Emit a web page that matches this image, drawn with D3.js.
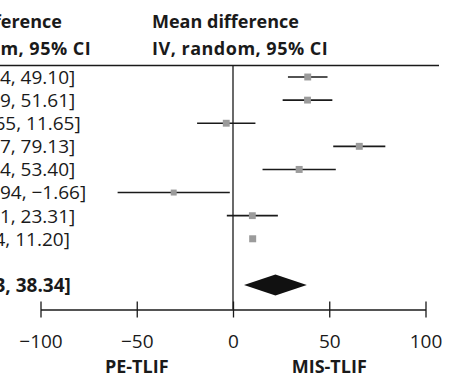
<!DOCTYPE html>
<html>
<head>
<meta charset="utf-8">
<script src="https://cdn.jsdelivr.net/npm/d3@7"></script>
<style>
  body { margin: 0; background: #fff; }
  text { font-family: "Open Sans", sans-serif; fill: #1a1a1a; }
</style>
</head>
<body>
<svg id="chart" width="450" height="377"></svg>
<script>
// study estimates (mean difference, 95% CI)
const means = [38.82, 38.70, -3.50, 65.60, 34.37, -30.80, 10.05, 10.22];
const lowers = [28.54, 25.79, -18.65, 52.07, 15.34, -59.94, -3.21, 9.24];
const uppers = [49.10, 51.61, 11.65, 79.13, 53.40, -1.66, 23.31, 11.20];
const weights = [12.9, 12.7, 12.8, 13.0, 13.2, 9.6, 12.6, 13.2];
// pooled: lower, mean, upper
const pooled = [5.73, 22.04, 38.34];
const tickValues = [-100, -50, 0, 50, 100];
const favours = ['PE-TLIF', 'MIS-TLIF'];
const header = ['Mean difference', 'IV, random, 95% CI'];

const svg = d3.select('#chart');
const fmt = d3.format('.2f');

const x = d3.scaleLinear().domain([-100, 100]).range([40.5, 425.5]);
const y = d3.scalePoint().domain(d3.range(10)).range([77, 285]);
const size = d3.scaleSqrt().domain([0, 14]).range([0, 7.2]);

const axisY = 309.5;
const textX = -11;

// headers (left text column is cut off by the frame)
[-85, 152].forEach(hx => {
  svg.append('text')
    .attr('x', hx)
    .selectAll('tspan')
    .data(header)
    .join('tspan')
    .attr('x', hx)
    .attr('y', (d, i) => 28 + i * 27)
    .attr('font-size', 18)
    .attr('font-weight', 'bold')
    .attr('letter-spacing', (d, i) => i === 1 ? 0.5 : 0)
    .text(d => d);
});

svg.append('line')
  .attr('x1', 0).attr('x2', 439)
  .attr('y1', 65.5).attr('y2', 65.5)
  .attr('stroke', '#1a1a1a')
  .attr('stroke-width', 1.3);

// zero line
svg.append('line')
  .attr('x1', x(0)).attr('x2', x(0))
  .attr('y1', 65.5).attr('y2', axisY)
  .attr('stroke', '#1a1a1a')
  .attr('stroke-width', 1.3);

const rows = means.map((m, i) => ({ m, lo: lowers[i], hi: uppers[i], w: weights[i], i }));

// row texts
svg.append('g')
  .selectAll('text')
  .data(rows)
  .join('text')
  .attr('x', textX)
  .attr('y', d => y(d.i))
  .attr('dy', '0.36em')
  .attr('text-anchor', 'middle')
  .attr('font-size', 19)
  .text(d => `${fmt(d.m)} [${fmt(d.lo)}, ${fmt(d.hi)}]`);

const marks = svg.append('g')
  .selectAll('g')
  .data(rows)
  .join('g');

marks.append('line')
  .attr('x1', d => x(d.lo))
  .attr('x2', d => x(d.hi))
  .attr('y1', d => y(d.i))
  .attr('y2', d => y(d.i))
  .attr('stroke', '#1a1a1a')
  .attr('stroke-width', 1.6);

marks.append('rect')
  .attr('x', d => x(d.m) - size(d.w) / 2)
  .attr('y', d => y(d.i) - size(d.w) / 2)
  .attr('width', d => size(d.w))
  .attr('height', d => size(d.w))
  .attr('fill', '#9b9b9b');

// pooled estimate
const py = y(9);
svg.append('text')
  .attr('x', textX)
  .attr('y', py)
  .attr('dy', '0.36em')
  .attr('text-anchor', 'middle')
  .attr('font-size', 19)
  .attr('font-weight', 'bold')
  .text(`${fmt(pooled[1])} [${fmt(pooled[0])}, ${fmt(pooled[2])}]`);

svg.append('path')
  .attr('d', `M${x(pooled[0])},${py}L${x(pooled[1])},${py - 10.5}L${x(pooled[2])},${py}L${x(pooled[1])},${py + 10.5}Z`)
  .attr('fill', '#111');

// axis
const axis = svg.append('g')
  .attr('transform', `translate(0,${axisY})`)
  .call(d3.axisBottom(x).tickValues(tickValues).tickSizeOuter(0).tickFormat(d3.format('d')));

axis.select('.domain').attr('stroke', '#1a1a1a').attr('stroke-width', 1.3);
axis.selectAll('.tick line')
  .attr('y1', -8).attr('y2', 8)
  .attr('stroke', '#1a1a1a')
  .attr('stroke-width', 1.3);
axis.selectAll('.tick text')
  .attr('y', 38)
  .attr('dy', null)
  .attr('font-size', 19)
  .attr('font-family', null)
  .attr('fill', null);

svg.append('g')
  .selectAll('text')
  .data(favours)
  .join('text')
  .attr('x', (d, i) => x(i === 0 ? -50 : 50))
  .attr('y', 373)
  .attr('text-anchor', 'middle')
  .attr('font-size', 18)
  .attr('font-weight', 'bold')
  .text(d => d);
</script>
</body>
</html>
